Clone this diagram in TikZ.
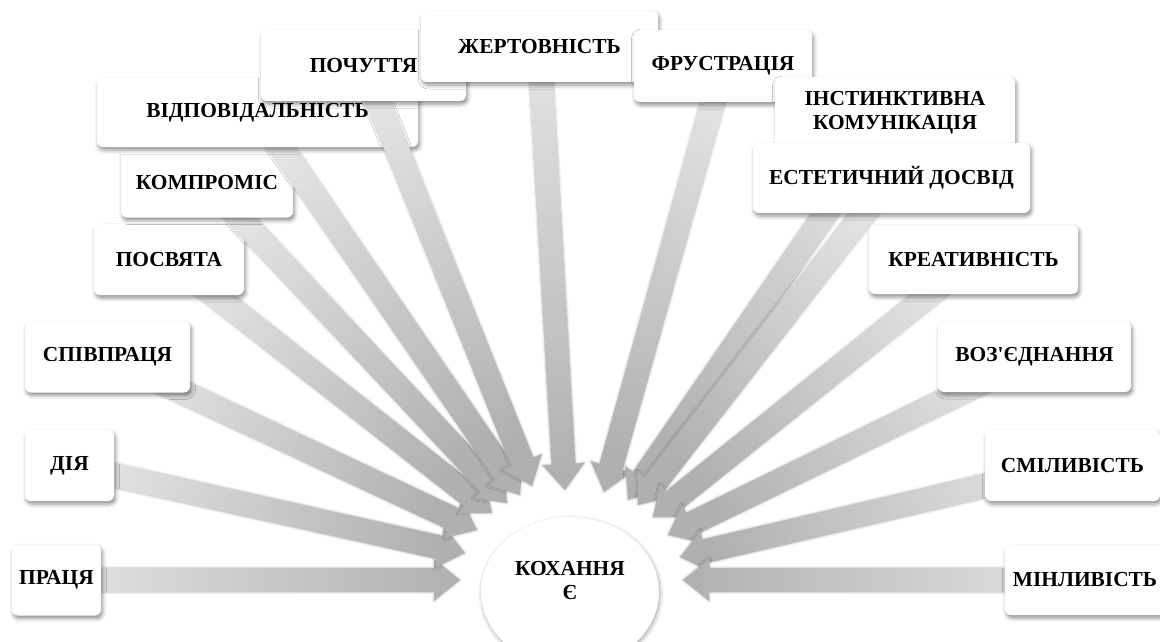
\documentclass[tikz,border=0pt]{standalone}
\usepackage{fontspec}
\setmainfont{Liberation Serif}
\usetikzlibrary{shapes.geometric,shadows.blur,calc}

\tikzset{
  card/.style={rectangle, rounded corners=6pt, fill=white, minimum height=71pt,
    inner sep=2pt, align=center,
    font=\fontsize{21.4}{24}\selectfont\bfseries,
    blur shadow={shadow xshift=1.5pt, shadow yshift=-3pt,
      shadow blur radius=4pt, shadow opacity=45}},
  fatarrow/.style={left color=black!11, right color=black!31,
    blur shadow={shadow xshift=0pt, shadow yshift=0pt,
      shadow blur radius=2.5pt, shadow opacity=28}},
}

% thick shaded block arrow from a card centre (#1) to its tip point (#2)
\makeatletter
\newcommand\heartarrow[2]{%
  \pgfpointdiff{\pgfpointanchor{#1}{center}}{\pgfpointanchor{#2}{center}}%
  \edef\ha@dx{\the\pgf@x}\edef\ha@dy{\the\pgf@y}%
  \pgfmathsetmacro\ha@ang{atan2(\ha@dy,\ha@dx)}%
  \pgfmathsetmacro\ha@len{veclen(\ha@dx,\ha@dy)}%
  \pgfmathsetmacro\ha@base{\ha@len-26}%
  \pgfmathsetmacro\ha@shade{\ha@ang+90}%
  \begin{scope}[shift={(#1)}, rotate=\ha@ang]
    \shade[fatarrow, shading angle=\ha@shade]
      (0,12) -- (\ha@base,12) -- (\ha@base,21) -- (\ha@len,0)
      -- (\ha@base,-21) -- (\ha@base,-12) -- (0,-12) -- cycle;
  \end{scope}%
}
\makeatother

\begin{document}
\begin{tikzpicture}[x=1pt,y=-1pt]
\useasboundingbox (0,0) rectangle (1160,642);

% card centres
\coordinate (c1)  at (56.5,580);
\coordinate (c2)  at (69.5,465.5);
\coordinate (c3)  at (107.5,357);
\coordinate (c4)  at (169,259.5);
\coordinate (c5)  at (207,183);
\coordinate (c6)  at (257.5,112.5);
\coordinate (c7)  at (363.5,65.5);
\coordinate (c8)  at (539.5,46.5);
\coordinate (c9)  at (723,66);
\coordinate (c10) at (895,113);
\coordinate (c11) at (891.5,178);
\coordinate (c12) at (973.5,259.5);
\coordinate (c13) at (1034.5,357);
\coordinate (c14) at (1072.5,465.5);
\coordinate (c15) at (1085,580);

% arrow tips around the centre
\coordinate (t1)  at (460,580);
\coordinate (t2)  at (465,553);
\coordinate (t3)  at (477,530);
\coordinate (t4)  at (492,513);
\coordinate (t5)  at (507,503);
\coordinate (t6)  at (520,495);
\coordinate (t7)  at (532,486);
\coordinate (t8)  at (565,490);
\coordinate (t9)  at (604,492);
\coordinate (t10) at (628,500);
\coordinate (t11) at (638,505);
\coordinate (t12) at (653,517);
\coordinate (t13) at (668,535);
\coordinate (t14) at (680,557);
\coordinate (t15) at (683,580);

% centre
\node[ellipse, fill=white, minimum width=178pt, minimum height=150pt,
  blur shadow={shadow xshift=1pt, shadow yshift=-2pt, shadow blur radius=4pt, shadow opacity=35}]
  (love) at (570,592) {};
\node[align=center, font=\fontsize{21.4}{24}\selectfont\bfseries]
  (lovetext) at ([yshift=11pt]love.center) {КОХАННЯ\\Є};

% arrows and cards, left to right
\heartarrow{c1}{t1}
\node[card, minimum width=89pt]  (b1) at (c1) {ПРАЦЯ};
\heartarrow{c2}{t2}
\node[card, minimum width=89pt]  (b2) at (c2) {ДІЯ};
\heartarrow{c3}{t3}
\node[card, minimum width=165pt] (b3) at (c3) {СПІВПРАЦЯ};
\heartarrow{c4}{t4}
\node[card, minimum width=150pt] (b4) at (c4) {ПОСВЯТА};
\heartarrow{c5}{t5}
\node[card, minimum width=172pt, minimum height=69pt] (b5) at (c5) {КОМПРОМІС};
\heartarrow{c6}{t6}
\node[card, minimum width=321pt, minimum height=69pt] (b6) at (c6) {ВІДПОВІДАЛЬНІСТЬ};
\heartarrow{c7}{t7}
\node[card, minimum width=205pt] (b7) at (c7) {ПОЧУТТЯ};
\heartarrow{c8}{t8}
\node[card, minimum width=237pt] (b8) at (c8) {ЖЕРТОВНІСТЬ};
\heartarrow{c9}{t9}
\node[card, minimum width=178pt, minimum height=72pt] (b9) at (c9) {ФРУСТРАЦІЯ};
\heartarrow{c10}{t10}
\node[card, minimum width=240pt, minimum height=72pt] (b10) at (c10) {ІНСТИНКТИВНА\\КОМУНІКАЦІЯ};
\heartarrow{c11}{t11}
\node[card, minimum width=277pt, minimum height=70pt] (b11) at (c11) {ЕСТЕТИЧНИЙ ДОСВІД};
\heartarrow{c12}{t12}
\node[card, minimum width=209pt, minimum height=69pt] (b12) at (c12) {КРЕАТИВНІСТЬ};
\heartarrow{c13}{t13}
\node[card, minimum width=193pt, minimum height=70pt] (b13) at (c13) {ВОЗ\textquotesingle ЄДНАННЯ};
\heartarrow{c14}{t14}
\node[card, minimum width=175pt] (b14) at (c14) {СМІЛИВІСТЬ};
\heartarrow{c15}{t15}
\node[card, minimum width=160pt, minimum height=70pt] (b15) at (c15) {МІНЛИВІСТЬ};
\end{tikzpicture}
\end{document}
